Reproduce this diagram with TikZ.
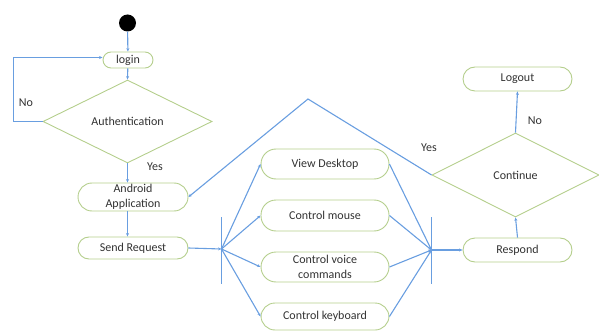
\documentclass[tikz,border=0pt]{standalone}
\usepackage{fontspec}
\setmainfont{Carlito}
\usetikzlibrary{shapes.geometric,arrows.meta}
\definecolor{flowline}{RGB}{105,158,224}
\definecolor{boxline}{RGB}{180,206,140}
\definecolor{txt}{RGB}{50,50,50}
\tikzset{
  every node/.style={text=txt,font=\fontsize{12}{15}\selectfont},
  act/.style={draw=boxline,line width=0.9pt,rounded corners=#1,inner sep=0pt,align=center},
  act/.default=13pt,
  decide/.style={draw=boxline,line width=0.9pt,diamond,inner sep=0pt},
  flow/.style={draw=flowline,line width=1.1pt,-{Stealth[length=3.5pt,width=3pt]}},
  forkbar/.style={draw=flowline,line width=1.2pt},
  lbl/.style={inner sep=0pt}
}
\begin{document}
\begin{tikzpicture}[x=1pt,y=-1pt]
\useasboundingbox (0,0) rectangle (599,331);

% start state
\node[circle,fill=black,minimum size=17pt,inner sep=0pt] (start) at (127.5,23) {};

% left column
\node[act=8pt,minimum width=50pt,minimum height=16pt] (login) at (128,60) {login};
\node[decide,minimum width=169pt,minimum height=83pt] (auth) at (127.5,121.5) {Authentication};
\node[act=14pt,minimum width=110pt,minimum height=28pt] (android) at (133,197) {Android\\Application};
\node[act=11pt,minimum width=110pt,minimum height=22pt] (send) at (133,248) {Send Request};

% fork / join bars
\coordinate (forkT) at (221.5,217);
\coordinate (forkB) at (221.5,284);
\coordinate (fork) at (221.5,249);
\coordinate (joinT) at (431.5,217);
\coordinate (joinB) at (431.5,284);
\coordinate (join) at (431.5,250);

% parallel actions
\node[act=15pt,minimum width=128pt,minimum height=30pt] (view) at (325,164) {View Desktop};
\node[act=15pt,minimum width=128pt,minimum height=31pt] (mouse) at (325,215.5) {Control mouse};
\node[act=15pt,minimum width=128pt,minimum height=30pt] (voice) at (325,267) {Control voice\\commands};
\node[act=14pt,minimum width=128pt,minimum height=27pt] (keys) at (325,316.5) {Control keyboard};

% right column
\node[act=12pt,minimum width=109pt,minimum height=24pt] (respond) at (517.5,250) {Respond};
\node[decide,minimum width=167pt,minimum height=84pt] (cont) at (515.5,175) {Continue};
\node[act=12pt,minimum width=109pt,minimum height=24pt] (logout) at (517.5,79) {Logout};

% loop-back corners
\coordinate (noBL) at (13.5,121.5);
\coordinate (noTL) at (13.5,57.5);
\coordinate (apex) at (308,99);

% connectors
\draw[flow] (start) -- (login);
\draw[flow] (login) -- (auth.north);
\draw[flow] (auth.west) -- (noBL) -- (noTL) -- (login.west |- noTL);
\draw[flow] (auth.south) -- (auth.south |- android.north);
\draw[flow] (auth.south |- android.south) -- (auth.south |- send.north);
\draw[flow] (send.east) -- (fork);
\draw[forkbar] (forkT) -- (forkB);
\draw[flow] (fork) -- (view.west);
\draw[flow] (fork) -- (mouse.west);
\draw[flow] (fork) -- (voice.west);
\draw[flow] (fork) -- (keys.west);
\draw[forkbar] (joinT) -- (joinB);
\draw[flow] (view.east) -- (join);
\draw[flow] (mouse.east) -- (join);
\draw[flow] (voice.east) -- (join);
\draw[flow] (keys.east) -- (join);
\draw[flow] (join) -- (respond.west);
\draw[flow] (respond.north) -- (cont.south);
\draw[flow] (cont.north) -- (logout.south);
\draw[flow] (cont.west) -- (apex) -- (android.east);

% branch labels
\node[lbl] (noA) at (26,103) {No};
\node[lbl] (yesA) at (155,167) {Yes};
\node[lbl] (noC) at (535,121) {No};
\node[lbl] (yesC) at (429,148) {Yes};
\end{tikzpicture}
\end{document}
